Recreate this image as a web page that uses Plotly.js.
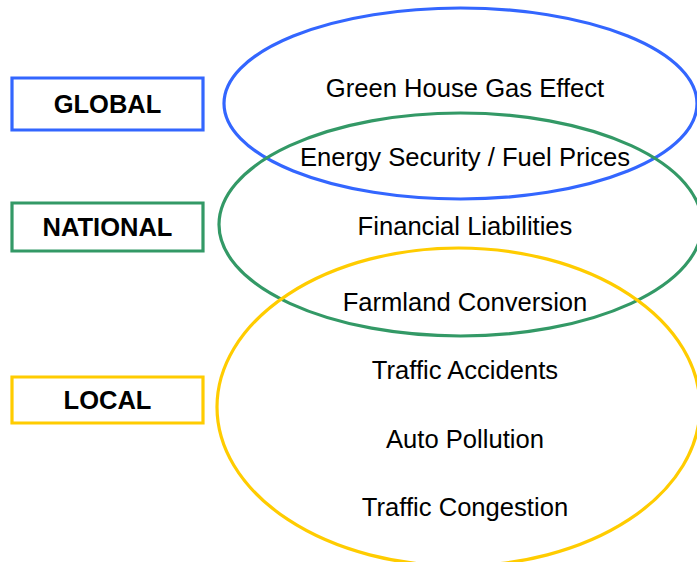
<!DOCTYPE html>
<html>
<head>
<meta charset="utf-8">
<script src="https://cdn.plot.ly/plotly-3.0.1.min.js"></script>
<style>html,body{margin:0;padding:0;background:#fff;}#chart{width:697px;height:562px;}</style>
</head>
<body>
<div id="chart"></div>
<script>
// Data: scale levels and the issues listed in the diagram
var levels = ["GLOBAL", "NATIONAL", "LOCAL"];
var issues = ["Green House Gas Effect", "Energy Security / Fuel Prices", "Financial Liabilities",
              "Farmland Conversion", "Traffic Accidents", "Auto Pollution", "Traffic Congestion"];

// Layout (pixel positions)
var levelColors = ["#3366FF", "#339966", "#FFCC00"];
var boxes = [[12, 78, 203, 130], [12, 203, 203, 251], [12, 377, 203, 423]];
var ellipses = [[224, 8, 697, 199], [219, 113, 702, 336], [217, 248, 700, 566]];
var issueX = 465;
var issueY = [91, 160, 229, 305, 373, 442, 510];
var boxTextDy = 3;

var shapes = [];
ellipses.forEach(function (e, i) {
  shapes.push({type: "circle", xref: "x", yref: "y", x0: e[0], y0: e[1], x1: e[2], y1: e[3],
               line: {color: levelColors[i], width: 3.2}, fillcolor: "rgba(0,0,0,0)"});
});
boxes.forEach(function (b, i) {
  shapes.push({type: "rect", xref: "x", yref: "y", x0: b[0], y0: b[1], x1: b[2], y1: b[3],
               line: {color: levelColors[i], width: 3.2}, fillcolor: "rgba(0,0,0,0)"});
});

var traces = [
  {type: "scatter", mode: "text", x: issues.map(function(){return issueX;}), y: issueY, text: issues,
   textposition: "middle center", hoverinfo: "skip",
   textfont: {family: "Liberation Sans, Arial, sans-serif", size: 25.6, color: "#000"}},
  {type: "scatter", mode: "text", x: boxes.map(function(b){return (b[0]+b[2])/2;}),
   y: boxes.map(function(b){return (b[1]+b[3])/2 + boxTextDy;}),
   text: levels.map(function(l){return "<b>" + l + "</b>";}),
   textposition: "middle center", hoverinfo: "skip",
   textfont: {family: "Liberation Sans, Arial, sans-serif", size: 25.5, color: "#000"}}
];

var layout = {
  width: 697, height: 562,
  margin: {l: 0, r: 0, t: 0, b: 0, pad: 0},
  paper_bgcolor: "#fff", plot_bgcolor: "#fff",
  showlegend: false,
  xaxis: {range: [0, 697], visible: false, fixedrange: true},
  yaxis: {range: [562, 0], visible: false, fixedrange: true},
  shapes: shapes
};

Plotly.newPlot("chart", traces, layout, {displayModeBar: false, staticPlot: true});
</script>
</body>
</html>
